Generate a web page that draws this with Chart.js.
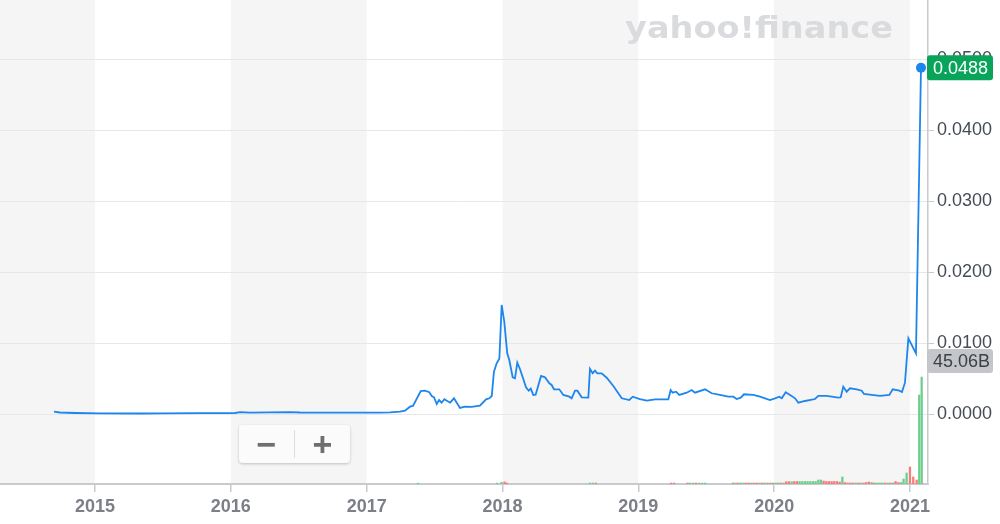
<!DOCTYPE html>
<html>
<head>
<meta charset="utf-8">
<script src="https://cdn.jsdelivr.net/npm/chart.js@4/dist/chart.umd.min.js"></script>
<style>
  body { margin: 0; background: #fff; }
  #wrap { position: relative; width: 1000px; height: 524px; }
  #zoomBox {
    position: absolute; left: 239px; top: 425px; width: 111px; height: 38px;
    background: #fbfbfb; border-radius: 4px;
    box-shadow: 0 1px 3px rgba(0,0,0,0.22);
    display: flex; align-items: center;
    font-family: "Liberation Sans", Arial, sans-serif; font-weight: bold;
    font-size: 34px; color: #6f6f6f;
  }
  #zoomBox span { flex: 1; text-align: center; line-height: 38px; }
  #zoomBox .sep { flex: 0 0 1px; height: 28px; background: #dedede; }
</style>
</head>
<body>
<div id="wrap">
  <canvas id="chart" width="1000" height="524"></canvas>
  <div id="zoomBox"><span>−</span><div class="sep"></div><span>+</span></div>
</div>
<script>
'use strict';

// price line (decimal years, USD)
const priceDates = [
  2014.698, 2014.742, 2014.853, 2015.037, 2015.331, 2015.479, 2015.773, 2016.031, 2016.068, 2016.141,
  2016.436, 2016.509, 2016.804, 2017.098, 2017.172, 2017.245, 2017.282, 2017.319, 2017.341, 2017.398,
  2017.429, 2017.461, 2017.479, 2017.496, 2017.516, 2017.533, 2017.552, 2017.572, 2017.614, 2017.643,
  2017.687, 2017.724, 2017.773, 2017.834, 2017.879, 2017.903, 2017.921, 2017.937, 2017.957, 2017.977,
  2017.994, 2018.013, 2018.035, 2018.050, 2018.075, 2018.092, 2018.109, 2018.129, 2018.149, 2018.173,
  2018.193, 2018.208, 2018.227, 2018.244, 2018.284, 2018.313, 2018.345, 2018.362, 2018.379, 2018.418,
  2018.448, 2018.492, 2018.509, 2018.534, 2018.551, 2018.583, 2018.632, 2018.644, 2018.664, 2018.681,
  2018.698, 2018.730, 2018.767, 2018.816, 2018.878, 2018.934, 2018.959, 2019.012, 2019.062, 2019.123,
  2019.221, 2019.238, 2019.253, 2019.277, 2019.302, 2019.356, 2019.393, 2019.417, 2019.491, 2019.540,
  2019.601, 2019.662, 2019.699, 2019.724, 2019.754, 2019.778, 2019.846, 2019.896, 2019.969, 2020.006,
  2020.038, 2020.056, 2020.085, 2020.117, 2020.154, 2020.178, 2020.227, 2020.301, 2020.325, 2020.387,
  2020.472, 2020.490, 2020.509, 2020.534, 2020.558, 2020.608, 2020.645, 2020.661, 2020.718, 2020.779,
  2020.848, 2020.873, 2020.921, 2020.941, 2020.963, 2020.988, 2021.044, 2021.081
];
const prices = [
  0.00037, 0.00025, 0.00018, 0.00014, 0.00011, 0.00014, 0.00015, 0.00018, 0.00030, 0.00023,
  0.00030, 0.00025, 0.00024, 0.00024, 0.00028, 0.00037, 0.00051, 0.00107, 0.00117, 0.00328,
  0.00332, 0.00310, 0.00258, 0.00239, 0.00145, 0.00201, 0.00163, 0.00211, 0.00163, 0.00225,
  0.00089, 0.00107, 0.00103, 0.00121, 0.00211, 0.00225, 0.00258, 0.00600, 0.00718, 0.00783,
  0.01540, 0.01304, 0.00859, 0.00765, 0.00521, 0.00507, 0.00727, 0.00634, 0.00521, 0.00380,
  0.00332, 0.00361, 0.00272, 0.00276, 0.00539, 0.00521, 0.00437, 0.00413, 0.00352, 0.00352,
  0.00272, 0.00248, 0.00225, 0.00332, 0.00332, 0.00239, 0.00234, 0.00638, 0.00577, 0.00614,
  0.00577, 0.00577, 0.00515, 0.00399, 0.00225, 0.00201, 0.00248, 0.00215, 0.00192, 0.00211,
  0.00211, 0.00342, 0.00304, 0.00318, 0.00272, 0.00304, 0.00342, 0.00304, 0.00352, 0.00296,
  0.00272, 0.00248, 0.00248, 0.00215, 0.00234, 0.00282, 0.00272, 0.00248, 0.00201, 0.00225,
  0.00248, 0.00225, 0.00310, 0.00272, 0.00225, 0.00163, 0.00187, 0.00215, 0.00258, 0.00258,
  0.00234, 0.00239, 0.00389, 0.00318, 0.00366, 0.00352, 0.00332, 0.00286, 0.00272, 0.00258,
  0.00272, 0.00352, 0.00332, 0.00314, 0.00445, 0.01070, 0.00859, 0.04880
];

// volume bars (billions), 1 = up week, 0 = down week
const volDates = [
  2017.378, 2017.960, 2017.993, 2018.015, 2018.033, 2018.644, 2018.666, 2018.688, 2019.241, 2019.263,
  2019.362, 2019.380, 2019.403, 2019.425, 2019.447, 2019.469, 2019.491,
  2019.697, 2019.717, 2019.736, 2019.756, 2019.776, 2019.795, 2019.815, 2019.834, 2019.854, 2019.874,
  2019.893, 2019.913, 2019.932, 2019.952, 2019.972, 2019.991,
  2020.011, 2020.030, 2020.050, 2020.070, 2020.089, 2020.109, 2020.129, 2020.148, 2020.168, 2020.187,
  2020.207, 2020.227, 2020.246, 2020.266, 2020.286, 2020.305, 2020.325, 2020.344, 2020.364, 2020.384,
  2020.403, 2020.423, 2020.442, 2020.462, 2020.482, 2020.502, 2020.521, 2020.541, 2020.561, 2020.580,
  2020.600, 2020.620, 2020.639, 2020.659, 2020.678, 2020.698, 2020.718, 2020.737, 2020.757, 2020.777,
  2020.796, 2020.816, 2020.836, 2020.855, 2020.875, 2020.894, 2020.914, 2020.934, 2020.953, 2020.975,
  2021.000, 2021.024, 2021.049, 2021.068, 2021.086
];
const volumes = [
  0.35, 0.35, 0.70, 0.90, 0.40, 0.40, 0.40, 0.40, 0.40, 0.40,
  0.40, 0.40, 0.40, 0.40, 0.40, 0.40, 0.40,
  0.42, 0.42, 0.42, 0.42, 0.42, 0.42, 0.42, 0.42, 0.42, 0.42,
  0.42, 0.42, 0.42, 0.42, 0.42, 0.42,
  0.42, 0.42, 0.42, 0.42, 0.97, 0.97, 0.97, 1.05, 1.05, 1.05,
  1.05, 1.05, 1.05, 1.05, 1.05, 1.05, 1.68, 1.68, 1.26, 1.05,
  1.05, 1.05, 1.05, 1.05, 0.84, 2.95, 0.63, 0.42, 0.42, 0.42,
  0.42, 0.42, 0.42, 0.42, 0.63, 0.84, 0.63, 0.42, 0.42, 0.42,
  0.42, 0.42, 0.42, 0.42, 0.42, 1.05, 0.63, 0.63, 2.10, 4.63,
  7.16, 2.95, 1.68, 37.50, 45.06
];
const volUp = [
  1, 1, 1, 0, 0, 1, 1, 0, 0, 0,
  0, 1, 1, 0, 1, 1, 1,
  0, 1, 0, 1, 1, 0, 0, 1, 0, 0,
  1, 0, 1, 0, 1, 0,
  1, 1, 0, 1, 0, 0, 1, 0, 0, 1,
  1, 1, 1, 1, 1, 1, 1, 1, 0, 0,
  0, 0, 0, 0, 0, 1, 0, 0, 0, 0,
  1, 0, 1, 0, 0, 0, 1, 0, 1, 1,
  1, 0, 1, 0, 1, 0, 0, 1, 1, 1,
  0, 0, 0, 1, 1
];

const yearTicks = [2015, 2016, 2017, 2018, 2019, 2020, 2021];
const priceTicks = [0, 0.01, 0.02, 0.03, 0.04, 0.05];

const LINE_BLUE = '#1c86ee';
const GRID = '#e7e7e7';
const AXIS = '#c8cacd';
const FONT = '"Liberation Sans", Arial, sans-serif';

const lastPrice = prices[prices.length - 1];
const lastVol = volumes[volumes.length - 1];

// alternating year bands + watermark, under everything
const backdrop = {
  id: 'backdrop',
  beforeDraw(chart) {
    const {ctx, chartArea: a, scales: {x}} = chart;
    ctx.save();
    const edges = [x.min].concat(yearTicks, [x.max]);
    for (let i = 0; i < edges.length - 1; i += 2) {
      const x0 = x.getPixelForValue(edges[i]);
      const x1 = x.getPixelForValue(edges[i + 1]);
      ctx.fillStyle = '#f5f5f5';
      ctx.fillRect(x0, a.top, x1 - x0, a.bottom - a.top);
    }
    // yahoo!finance watermark
    const text = 'yahoo!finance';
    ctx.font = 'bold 31px "DejaVu Sans"';
    const w = ctx.measureText(text).width;
    ctx.translate(625, 38);
    ctx.scale(268 / w, 1);
    ctx.fillStyle = '#dadbde';
    ctx.textBaseline = 'alphabetic';
    ctx.fillText(text, 0, 0);
    ctx.restore();
  }
};

function badge(ctx, x, yMid, w, h, fill, color, text) {
  ctx.fillStyle = fill;
  ctx.beginPath();
  ctx.roundRect(x, yMid - h / 2, w, h, 3);
  ctx.fill();
  ctx.fillStyle = color;
  ctx.font = '18px ' + FONT;
  ctx.textBaseline = 'middle';
  ctx.textAlign = 'left';
  ctx.fillText(text, x + 6, yMid + 1);
}

const labels = {
  id: 'labels',
  afterDraw(chart) {
    const {ctx, scales: {y, v}} = chart;
    ctx.save();
    badge(ctx, 927, y.getPixelForValue(lastPrice), 66, 25, '#08a45a', '#fff', lastPrice.toFixed(4));
    badge(ctx, 927, v.getPixelForValue(lastVol) - 16, 66, 24, '#c4c6ca', '#3c4147', lastVol.toFixed(2) + 'B');
    ctx.restore();
  }
};

new Chart(document.getElementById('chart'), {
  type: 'line',
  data: {
    datasets: [
      {
        type: 'line',
        data: priceDates.map((d, i) => ({x: d, y: prices[i]})),
        yAxisID: 'y',
        borderColor: LINE_BLUE,
        borderWidth: 1.8,
        tension: 0,
        pointRadius: ctx => ctx.dataIndex === prices.length - 1 ? 5 : 0,
        pointBackgroundColor: LINE_BLUE,
        pointBorderWidth: 0,
        order: 1
      },
      {
        type: 'bar',
        data: volDates.map((d, i) => ({x: d, y: volumes[i]})),
        yAxisID: 'v',
        backgroundColor: volUp.map(u => u ? '#6cce8c' : '#f47c7c'),
        barThickness: 1.6,
        order: 2
      }
    ]
  },
  options: {
    responsive: false,
    animation: false,
    layout: {padding: 0, autoPadding: false},
    plugins: {legend: {display: false}, tooltip: {enabled: false}},
    scales: {
      x: {
        type: 'linear',
        min: 2014.3006,
        max: 2021.1326,
        offset: false,
        afterBuildTicks: s => { s.ticks = yearTicks.map(v => ({value: v})); },
        afterFit: s => { s.height = 40; s.paddingLeft = 0; s.paddingRight = 0; },
        ticks: {
          callback: v => String(v),
          color: '#7b7f86',
          font: {family: FONT, size: 18, weight: 'bold'},
          padding: 4,
          maxRotation: 0
        },
        grid: {drawOnChartArea: false, offset: false, tickLength: 8, color: AXIS, lineWidth: 1.5},
        border: {display: true, color: AXIS, width: 2}
      },
      y: {
        position: 'right',
        min: -0.00982,
        max: 0.05835,
        afterBuildTicks: s => { s.ticks = priceTicks.map(v => ({value: v})); },
        afterFit: s => { s.width = 72; s.paddingTop = 0; s.paddingBottom = 0; },
        ticks: {
          callback: v => v.toFixed(4),
          color: '#454c54',
          font: {family: FONT, size: 18},
          padding: 3
        },
        grid: {color: GRID, tickColor: AXIS, tickLength: 6, lineWidth: 1},
        border: {display: true, color: AXIS, width: 1.5}
      },
      v: {
        display: false,
        min: 0,
        max: 204
      }
    }
  },
  plugins: [backdrop, labels]
});
</script>
</body>
</html>
